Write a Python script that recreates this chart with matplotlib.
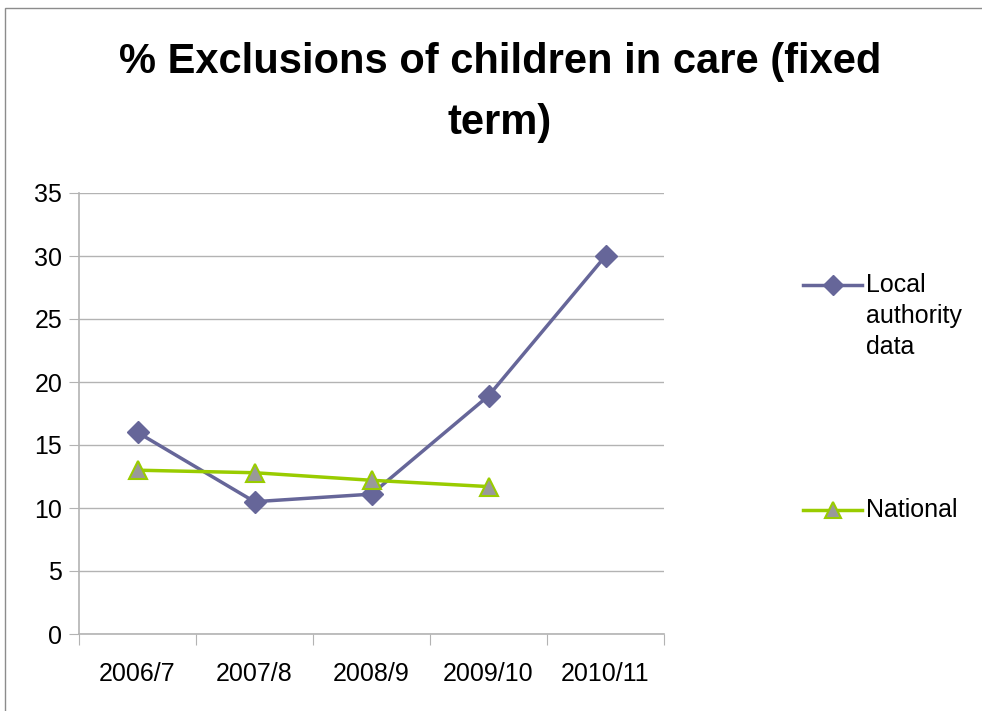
import matplotlib
matplotlib.use("Agg")
import matplotlib.pyplot as plt
from matplotlib.lines import Line2D
from matplotlib.patches import Rectangle

years = ["2006/7", "2007/8", "2008/9", "2009/10", "2010/11"]
local_authority = [16.0, 10.5, 11.1, 18.9, 30.0]
national = [13.0, 12.8, 12.2, 11.7]
y_ticks = [0, 5, 10, 15, 20, 25, 30, 35]

LA_COLOR = "#666699"
NAT_COLOR = "#99CC00"
NAT_FILL = "#999999"
GRID = "#B3B3B3"
W, H = 982, 711

plt.rcParams["font.family"] = ["Liberation Sans", "DejaVu Sans"]

fig = plt.figure(figsize=(W / 100, H / 100), dpi=100)
fig.patches.append(Rectangle((5 / W, -0.01), 1.0, 1 - 8 / H + 0.01,
                             transform=fig.transFigure, fill=False,
                             edgecolor="#8C8C8C", linewidth=1.0))

ax = fig.add_axes([79 / W, 77 / H, (664 - 79) / W, (634 - 193) / H])

la_style = dict(color=LA_COLOR, linewidth=2.5, marker="D",
                markerfacecolor=LA_COLOR, markeredgecolor=LA_COLOR)
nat_style = dict(color=NAT_COLOR, linewidth=2.5, marker="^",
                 markerfacecolor=NAT_FILL, markeredgecolor=NAT_COLOR,
                 markeredgewidth=1.5)

ax.plot(range(len(local_authority)), local_authority, markersize=11,
        zorder=3, **la_style)
ax.plot(range(len(national)), national, markersize=13, zorder=4, **nat_style)

ax.set_xlim(-0.5, len(years) - 0.5)
ax.set_ylim(0, 35)
ax.set_yticks(y_ticks)
ax.set_yticklabels([str(v) for v in y_ticks], fontsize=18)
ax.set_xticks([i - 0.5 for i in range(len(years) + 1)])
ax.set_xticklabels([])
ax.set_xticks(range(len(years)), minor=True)
ax.set_xticklabels(years, minor=True, fontsize=18)
ax.tick_params(axis="x", which="minor", length=0, pad=20)
ax.tick_params(axis="x", which="major", length=8, color=GRID, direction="out")
ax.tick_params(axis="y", length=7, color=GRID, direction="out", pad=5)

ax.grid(axis="y", color=GRID, linewidth=1.0)
ax.set_axisbelow(True)
for side in ("top", "right"):
    ax.spines[side].set_visible(False)
for side in ("left", "bottom"):
    ax.spines[side].set_color(GRID)
    ax.spines[side].set_linewidth(1.2)

title_kw = dict(ha="center", va="center", fontsize=30, fontweight="bold")
fig.text(500 / W, 1 - 62 / H, "% Exclusions of children in care (fixed",
         **title_kw)
fig.text(500 / W, 1 - 123 / H, "term)", **title_kw)


# Legend entries: key line with marker, label aligned to its first line
def legend_entry(y_px, label, markersize, style):
    y = 1 - y_px / H
    fig.add_artist(Line2D([803 / W, 862 / W], [y, y],
                          transform=fig.transFigure,
                          **{**style, "marker": "None"}))
    fig.add_artist(Line2D([832.5 / W], [y], transform=fig.transFigure,
                          linestyle="none", markersize=markersize, **style))
    fig.text(866 / W, y + 12 / H, label, ha="left", va="top", fontsize=18,
             linespacing=1.38)


legend_entry(285, "Local\nauthority\ndata", 10, la_style)
legend_entry(510, "National", 12, nat_style)

fig.savefig("out.png", dpi=100)
